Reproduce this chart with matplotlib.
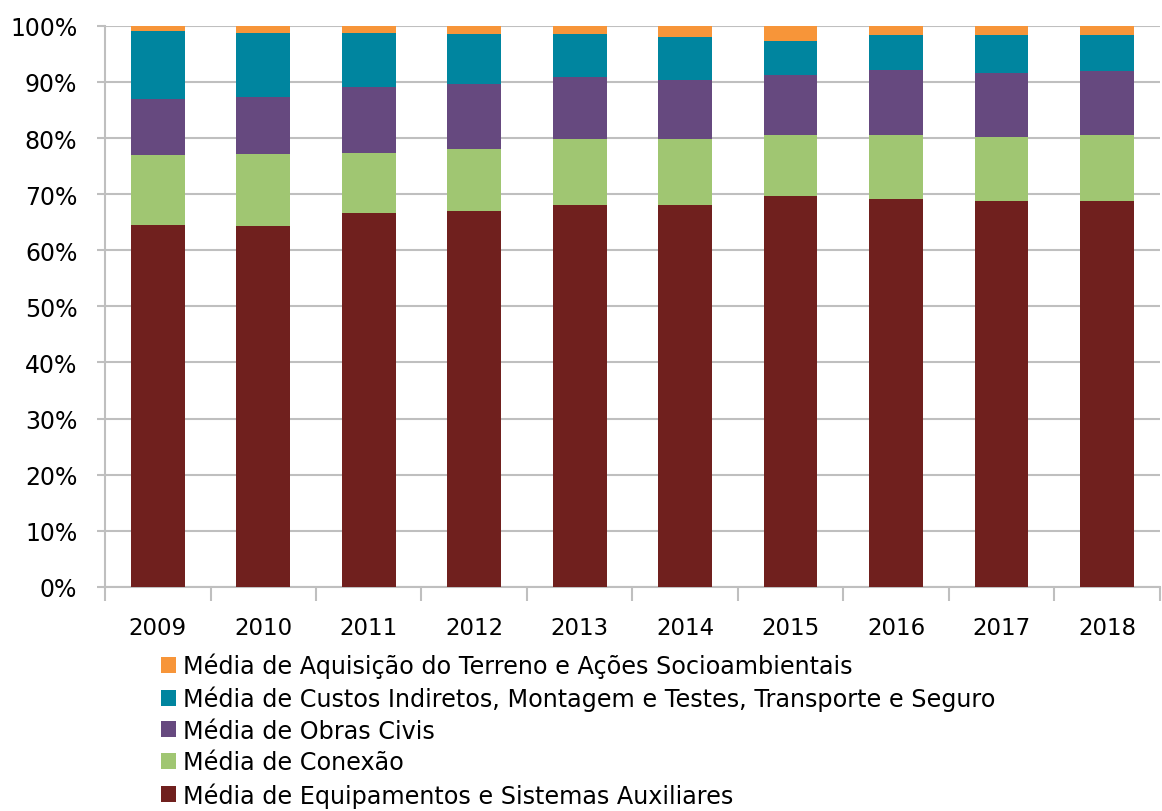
import matplotlib
matplotlib.use("Agg")
import matplotlib.pyplot as plt
import numpy as np
from matplotlib.ticker import FuncFormatter, FixedLocator

years = ["2009", "2010", "2011", "2012", "2013", "2014", "2015", "2016", "2017", "2018"]
equipamentos = [64.5, 64.3, 66.6, 67.0, 68.0, 68.0, 69.7, 69.1, 68.8, 68.8]
conexao = [12.5, 12.9, 10.7, 11.0, 11.8, 11.8, 10.8, 11.4, 11.4, 11.7]
obras_civis = [9.9, 10.1, 11.8, 11.7, 11.1, 10.5, 10.8, 11.6, 11.4, 11.4]
custos_indiretos = [12.2, 11.5, 9.7, 8.9, 7.7, 7.7, 6.0, 6.2, 6.7, 6.4]
terreno = [0.9, 1.2, 1.2, 1.4, 1.4, 2.0, 2.7, 1.7, 1.7, 1.7]

series = [
    ("Média de Equipamentos e Sistemas Auxiliares", equipamentos, "#70201E"),
    ("Média de Conexão", conexao, "#A0C672"),
    ("Média de Obras Civis", obras_civis, "#66497F"),
    ("Média de Custos Indiretos, Montagem e Testes, Transporte e Seguro", custos_indiretos, "#00859F"),
    ("Média de Aquisição do Terreno e Ações Socioambientais", terreno, "#F79539"),
]

plt.rcParams['font.family'] = ['DejaVu Sans']
fig = plt.figure(figsize=(11.62, 8.12), dpi=100)
ax = fig.add_axes([0.0904, 0.276, 0.9076, 0.691])

x = np.arange(len(years))
bottom = np.zeros(len(years))
handles = []
for label, vals, color in series:
    v = np.array(vals, dtype=float)
    b = ax.bar(x, v, bottom=bottom, width=0.51, color=color, label=label, zorder=3)
    handles.append(b)
    bottom += v

ax.set_ylim(0, 100)
ax.set_xlim(-0.5, len(years) - 0.5)
ax.yaxis.set_major_locator(FixedLocator(np.arange(0, 101, 10)))
ax.yaxis.set_major_formatter(FuncFormatter(lambda v, p: f"{int(v)}%"))
ax.grid(axis='y', color='#BFBFBF', linewidth=1.5, zorder=0)
ax.set_xticks(x)
ax.set_xticklabels(years)
ax.set_xticks(np.arange(-0.5, len(years), 1.0), minor=True)
ax.tick_params(axis='x', which='major', length=0, pad=21, labelsize=16.5)
ax.tick_params(axis='x', which='minor', length=10, color='#BFBFBF', width=1.5)
ax.tick_params(axis='y', length=6, color='#BFBFBF', width=1.5, labelsize=17, pad=14)
for s in ['top', 'right']:
    ax.spines[s].set_visible(False)
for s in ['left', 'bottom']:
    ax.spines[s].set_color('#BFBFBF')
    ax.spines[s].set_linewidth(1.5)

leg = fig.legend(handles[::-1], [s[0] for s in series][::-1], loc='upper left',
                 bbox_to_anchor=(0.128, 0.21), frameon=False, fontsize=17.2,
                 handlelength=0.65, handleheight=0.65, handletextpad=0.3,
                 labelspacing=0.32, borderpad=0)

fig.savefig("out.png", dpi=100)
